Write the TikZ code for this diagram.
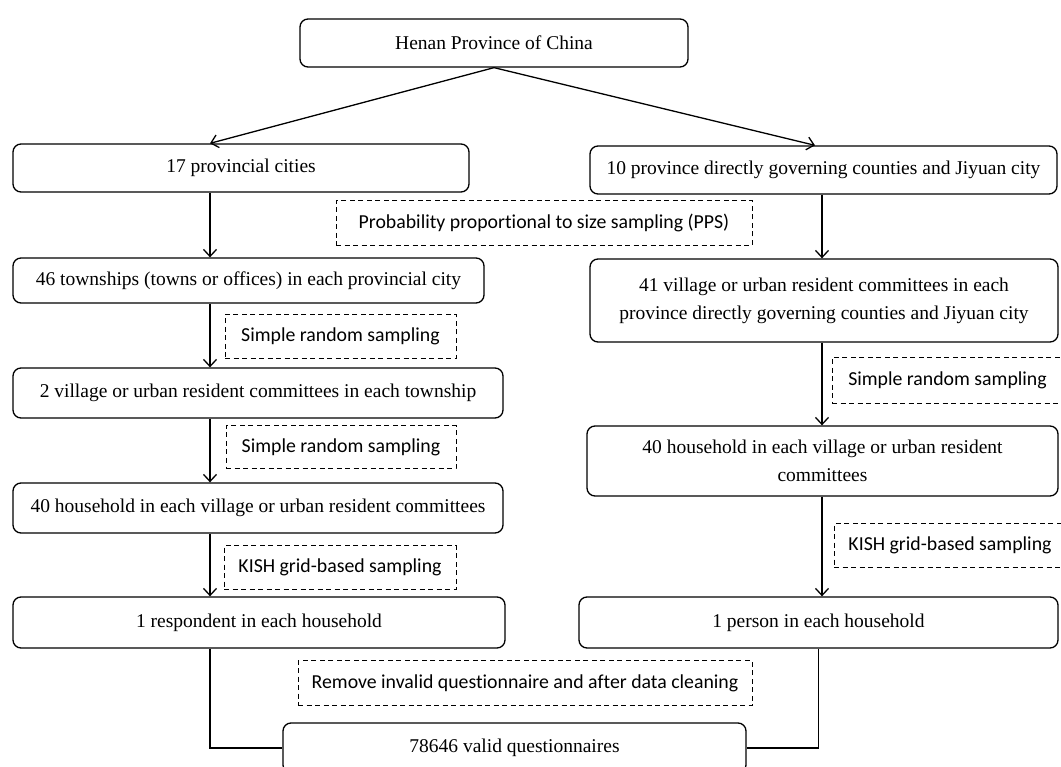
\documentclass[tikz,border=0pt]{standalone}
\usepackage{fontspec}
\setmainfont{Liberation Serif}
\newfontfamily\labfont[Ligatures={NoCommon}]{Carlito}
\usetikzlibrary{arrows.meta}
\begin{document}
\begin{tikzpicture}[x=1pt,y=-1pt,
  box/.style={draw, line width=1.3pt, rounded corners=8pt, inner sep=0pt, align=center,
    font=\fontsize{19.5}{28}\selectfont},
  lab/.style={draw, line width=0.9pt, dash pattern=on 5pt off 3.5pt, inner sep=0pt, align=center,
    font=\labfont\fontsize{19.8}{23}\selectfont},
  arr/.style={line width=1.3pt, -{Straight Barb[length=7pt,width=13pt,line width=1.3pt]}},
  ln/.style={line width=1.3pt}]
\clip (0,0) rectangle (1061,767);
\fill[white] (0,0) rectangle (1061,767);
\coordinate (L) at (210,0);
\coordinate (R) at (822,0);
\coordinate (P) at (210,143);
\coordinate (Q) at (815,145);
% boxes
\node[box, minimum width=388pt, minimum height=48pt] (henan) at (494,43) {Henan Province of China};
\node[box, minimum width=456pt, minimum height=48pt] (prov) at (241,168) {17 provincial cities};
\node[box, minimum width=467pt, minimum height=48pt] (dir) at (823.5,170) {10 province directly governing counties and Jiyuan city};
\node[lab, minimum width=416pt, minimum height=45pt] (pps) at (544,223) {Probability proportional to size sampling (PPS)};
\node[box, minimum width=471pt, minimum height=45pt] (town) at (248.5,280.5) {46 townships (towns or offices) in each provincial city};
\node[box, minimum width=468pt, minimum height=83pt] (vil41) at (824,300.5) {41 village or urban resident committees in each\\province directly governing counties and Jiyuan city};
\node[lab, minimum width=231pt, minimum height=44pt] (sr1) at (340.5,336.5) {Simple random sampling};
\node[box, minimum width=490pt, minimum height=50pt] (vil2) at (258,393) {2 village or urban resident committees in each township};
\node[lab, minimum width=231pt, minimum height=46pt] (srR) at (947.5,380.5) {Simple random sampling};
\node[lab, minimum width=230pt, minimum height=43pt] (sr2) at (341,447) {Simple random sampling};
\node[box, minimum width=471pt, minimum height=70pt] (hhR) at (822.5,461) {40 household in each village or urban resident\\committees};
\node[box, minimum width=490pt, minimum height=50pt] (hhL) at (258,508) {40 household in each village or urban resident committees};
\node[lab, minimum width=232pt, minimum height=44pt] (kishR) at (950,545.5) {KISH grid-based sampling};
\node[lab, minimum width=232pt, minimum height=44pt] (kishL) at (340,567.5) {KISH grid-based sampling};
\node[box, minimum width=492pt, minimum height=51pt] (resp) at (259,622.5) {1 respondent in each household};
\node[box, minimum width=479pt, minimum height=51pt] (person) at (818.5,622.5) {1 person in each household};
\node[lab, minimum width=454pt, minimum height=45pt] (remove) at (525,683) {Remove invalid questionnaire and after data cleaning};
\node[box, minimum width=463pt, minimum height=50pt] (valid) at (514.5,748) {78646 valid questionnaires};
% connectors
\draw[arr] (henan.south) -- (prov.north -| P);
\draw[arr] (henan.south) -- (dir.north -| Q);
\draw[arr] (prov.south -| L) -- (town.north -| L);
\draw[arr] (town.south -| L) -- (vil2.north -| L);
\draw[arr] (vil2.south -| L) -- (hhL.north -| L);
\draw[arr] (hhL.south -| L) -- (resp.north -| L);
\draw[arr] (dir.south -| R) -- (vil41.north -| R);
\draw[arr] (vil41.south -| R) -- (hhR.north -| R);
\draw[arr] (hhR.south -| R) -- (person.north -| R);
\draw[ln] (resp.south -| L) |- (valid.west);
\draw[ln] (person.south) |- (valid.east);
\end{tikzpicture}
\end{document}
